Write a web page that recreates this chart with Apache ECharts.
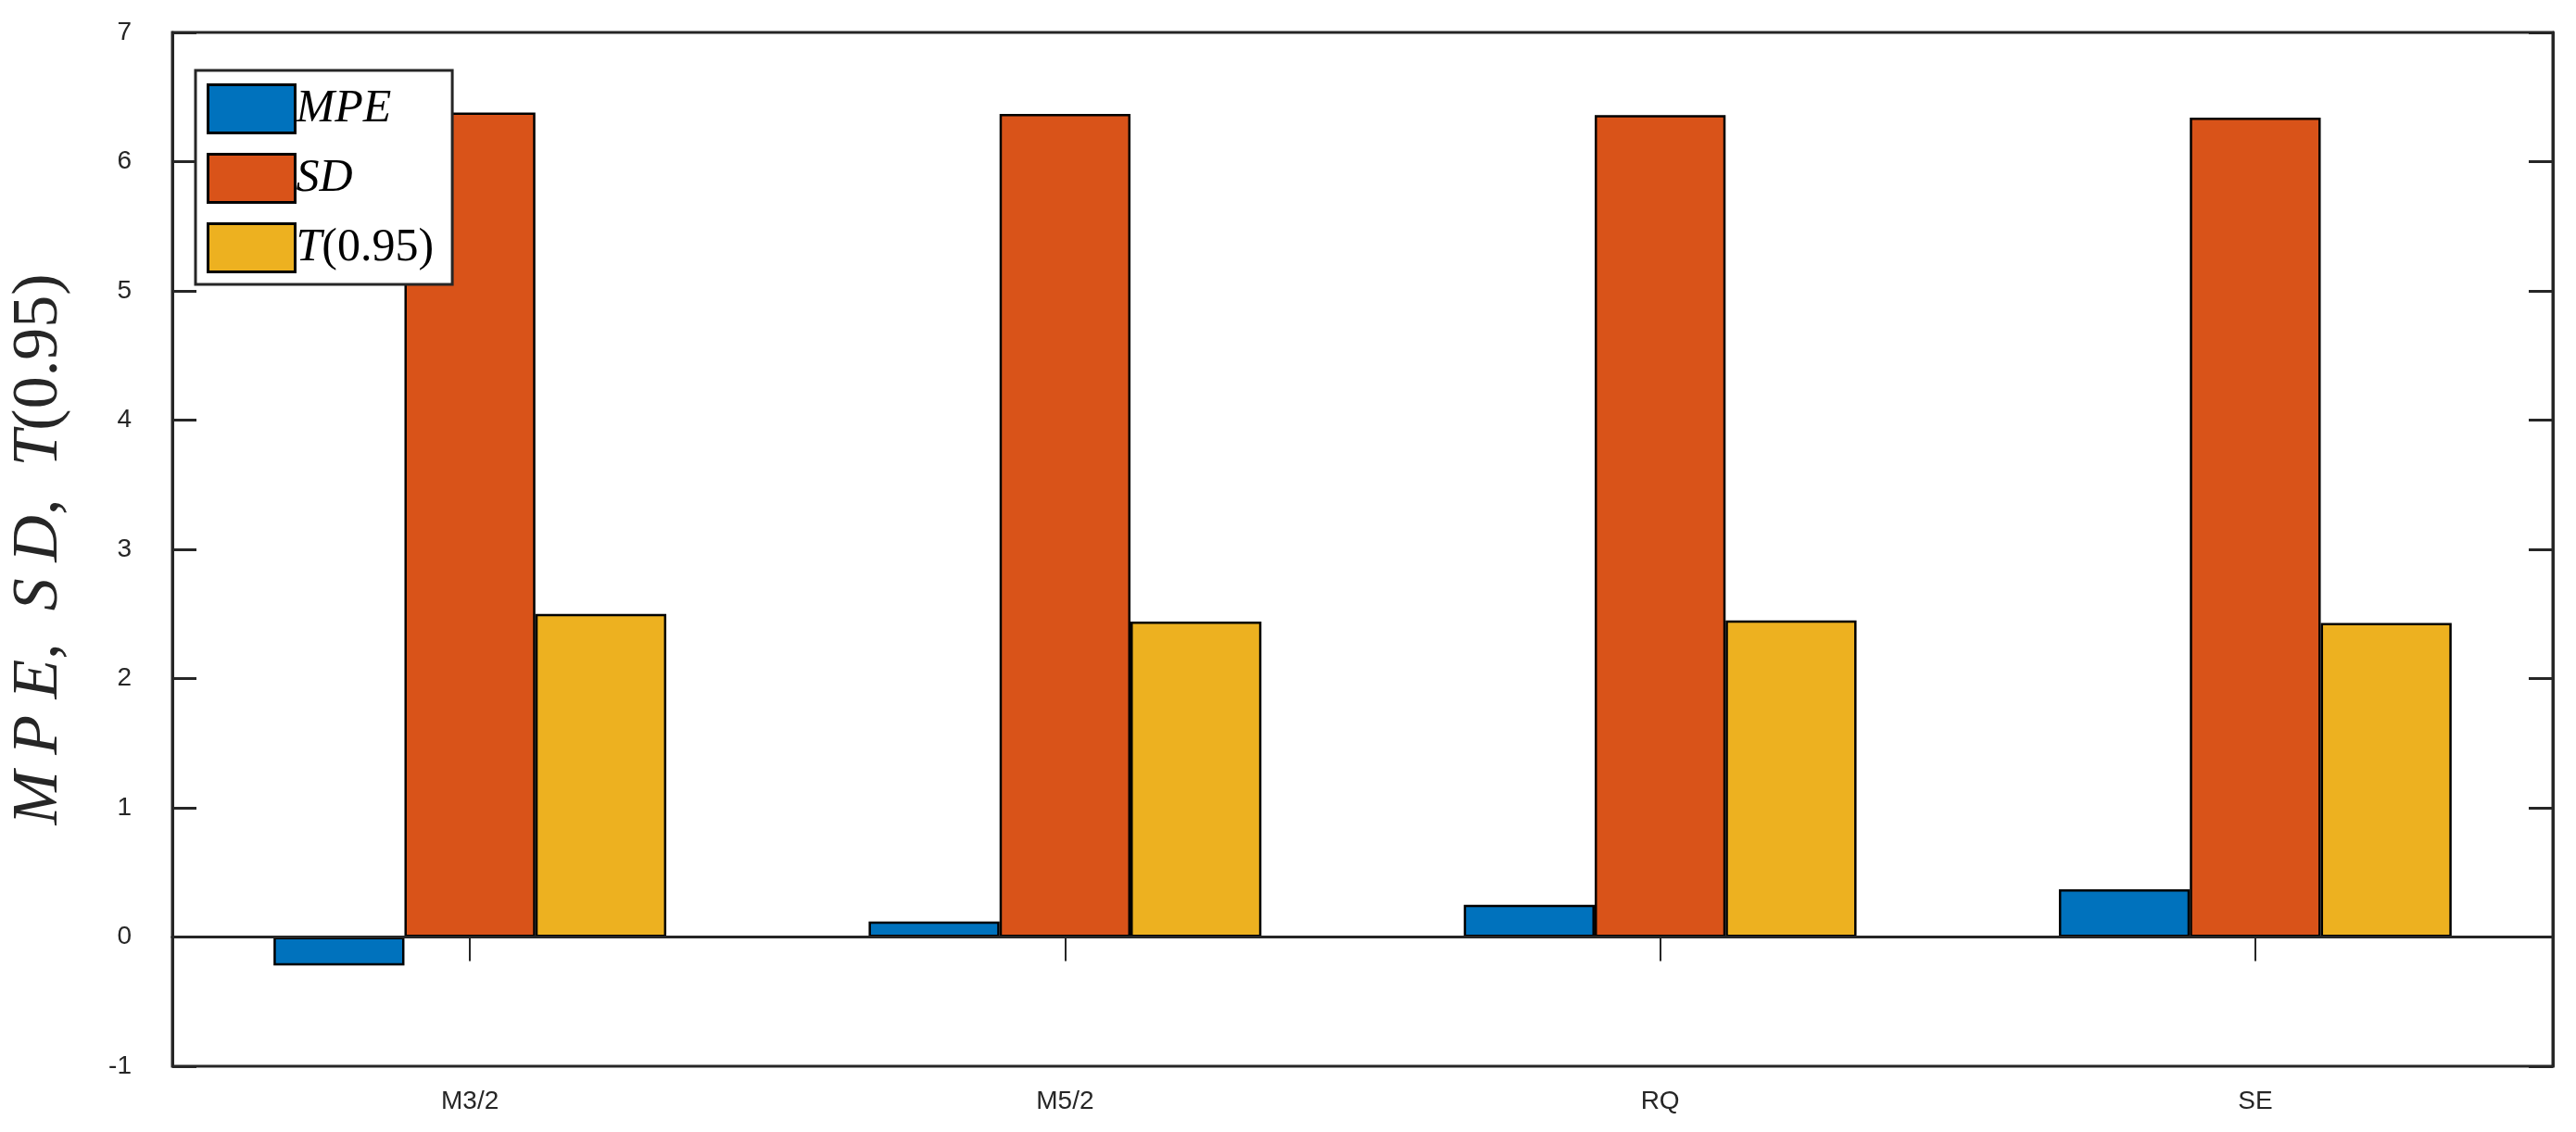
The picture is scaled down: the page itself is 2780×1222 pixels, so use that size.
<!DOCTYPE html>
<html><head><meta charset="utf-8">
<script src="https://cdn.jsdelivr.net/npm/echarts@6/dist/echarts.min.js"></script>
<style>html,body{margin:0;background:#fff}#c{width:2780px;height:1222px}</style>
</head><body><div id="c"></div>
<script>
const categories = ['M3/2','M5/2','RQ','SE'];
const mpe = [-0.22, 0.12, 0.25, 0.37];
const sd = [6.38, 6.37, 6.36, 6.34];
const t95 = [2.50, 2.44, 2.45, 2.43];
const yTicks = [-1,0,1,2,3,4,5,6,7];

const chart = echarts.init(document.getElementById('c'));
const ax = '#262626';
const bar = (name, data, color) => ({
  name, type:'bar', data, barGap:'0%', barCategoryGap:'34%',
  itemStyle:{color, borderColor:'#000', borderWidth:2.5}
});
const serif = 'Liberation Serif';
const xTick = {show:true, inside:true, alignWithLabel:true, length:26, lineStyle:{color:ax, width:2}};
chart.setOption({
  animation:false,
  grid:{left:170, right:25, top:35, bottom:71, show:true, borderColor:ax, borderWidth:3, backgroundColor:'transparent'},
  legend:{
    left:211, top:76, orient:'vertical', itemWidth:94, itemHeight:52, itemGap:20, icon:'rect',
    padding:[14,20,12,12], borderColor:ax, borderWidth:3, backgroundColor:'#fff',
    data:['MPE','SD','T'],
    itemStyle:{borderColor:'#000', borderWidth:3},
    formatter: n => n==='T' ? '{i|T}{n|(0.95)}' : '{i|'+n+'}',
    textStyle:{padding:[0,0,0,-4], rich:{
      i:{fontFamily:serif, fontStyle:'italic', fontSize:50, color:'#000'},
      n:{fontFamily:serif, fontSize:50, color:'#000'}
    }}
  },
  xAxis:[{type:'category', data:categories, position:'bottom',
    axisLine:{lineStyle:{color:ax, width:3}},
    axisTick:xTick,
    axisLabel:{color:ax, fontSize:28, fontFamily:'Liberation Sans', margin:24}},
   {type:'category', data:categories, position:'top',
    axisLine:{lineStyle:{color:ax, width:3}},
    axisTick:xTick,
    axisLabel:{show:false}}],
  yAxis:[{type:'value', min:yTicks[0], max:yTicks[yTicks.length-1], interval:1,
    axisLine:{show:true, lineStyle:{color:ax, width:3}},
    axisTick:{show:true, inside:true, length:26, lineStyle:{color:ax, width:3}},
    splitLine:{show:false},
    axisLabel:{color:ax, fontSize:28, fontFamily:'Liberation Sans', margin:44},
    name:'{i|M P E}{n|,  }{i|S D}{n|,  }{i|T}{n|(0.95)}', nameLocation:'middle', nameGap:108, nameRotate:90,
    nameTextStyle:{rich:{
      i:{fontFamily:serif, fontStyle:'italic', fontSize:70, color:ax},
      n:{fontFamily:serif, fontSize:70, color:ax}}}},
   {type:'value', min:yTicks[0], max:yTicks[yTicks.length-1], interval:1, position:'right',
    axisLine:{show:true, lineStyle:{color:ax, width:3}},
    axisTick:{show:true, inside:true, length:26, lineStyle:{color:ax, width:3}},
    splitLine:{show:false}, axisLabel:{show:false}}],
  series:[
    Object.assign(bar('MPE', mpe, '#0072BD'), {markLine:{silent:true, symbol:'none', label:{show:false},
      lineStyle:{color:ax, width:3, type:'solid'}, data:[{yAxis:0}]}}),
    bar('SD', sd, '#D95319'),
    bar('T', t95, '#EDB120')
  ]
});
</script></body></html>
